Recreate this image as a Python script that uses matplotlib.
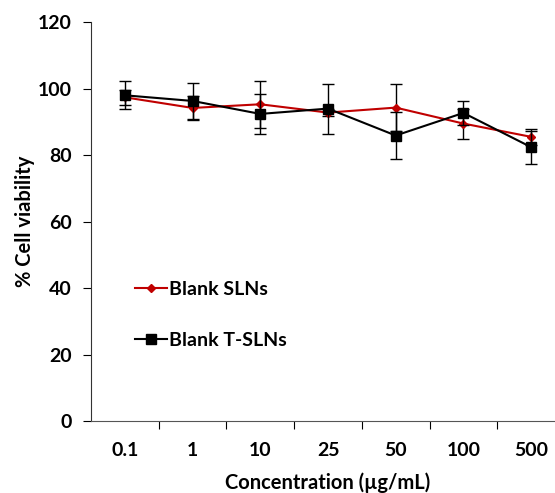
import matplotlib.pyplot as plt
from matplotlib.lines import Line2D
import numpy as np

plt.rcParams['font.family'] = ['Lato', 'DejaVu Sans']

concentrations = ['0.1', '1', '10', '25', '50', '100', '500']
sln_mean = [97.4, 94.2, 95.3, 92.8, 94.3, 89.5, 85.5]
sln_err = [2.2, 3.7, 7.0, 1.0, 7.0, 4.5, 2.5]
tsln_mean = [98.0, 96.3, 92.4, 94.0, 85.9, 92.7, 82.4]
tsln_err = [4.2, 5.5, 6.0, 7.5, 7.0, 3.5, 5.0]

x = np.arange(len(concentrations))

fig = plt.figure(figsize=(5.55, 4.93), dpi=100)
ax = fig.add_axes([0.164, 0.146, 0.854, 0.809])

ax.errorbar(x, sln_mean, yerr=sln_err, color='#C00000', marker='D', markersize=4.5,
            linewidth=1.5, ecolor='black', elinewidth=1, capsize=4, capthick=1,
            zorder=3)
ax.errorbar(x, tsln_mean, yerr=tsln_err, color='black', marker='s', markersize=7,
            linewidth=1.5, ecolor='black', elinewidth=1, capsize=4, capthick=1,
            zorder=4)

ax.set_xlim(-0.5, 6.5)
ax.set_ylim(0, 120)
ax.set_yticks(np.arange(0, 121, 20))
ax.set_xticks(x + 0.5)
ax.set_xticklabels([])
ax.set_xticks(x, minor=True)
ax.set_xticklabels(concentrations, minor=True)
ax.tick_params(axis='x', which='minor', length=0, pad=15)
ax.tick_params(axis='x', which='major', length=6, direction='out')
ax.tick_params(axis='y', length=6, direction='out', pad=8)
for lbl in ax.get_xticklabels(minor=True) + ax.get_yticklabels():
    lbl.set_fontsize(14)
    lbl.set_fontweight('bold')

ax.spines['top'].set_visible(False)
ax.spines['right'].set_visible(False)
ax.spines['left'].set_color('#333333')
ax.spines['bottom'].set_color('#555555')

ax.set_ylabel('% Cell viability', fontsize=14.5, fontweight='bold', labelpad=2)
ax.set_xlabel('Concentration (µg/mL)', fontsize=14.5, fontweight='bold', labelpad=10)

handles = [
    Line2D([], [], color='#C00000', marker='D', markersize=4.5, linewidth=1.5),
    Line2D([], [], color='black', marker='s', markersize=7, linewidth=1.5),
]
leg = ax.legend(handles, ['Blank SLNs', 'Blank T-SLNs'], loc='upper left',
                bbox_to_anchor=(0.055, 0.395), frameon=False, fontsize=14,
                labelspacing=1.75, handlelength=1.65, handletextpad=0.1)
for t in leg.get_texts():
    t.set_fontweight('bold')

fig.savefig('out.png', dpi=100)
